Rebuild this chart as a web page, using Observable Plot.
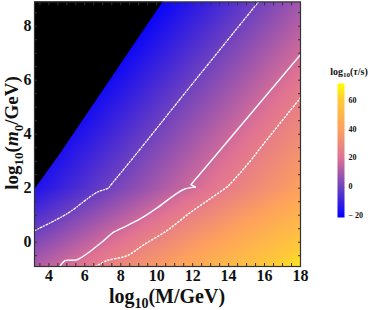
<!DOCTYPE html>
<html><head><meta charset="utf-8">
<script src="https://cdn.jsdelivr.net/npm/d3@7"></script>
<script src="https://cdn.jsdelivr.net/npm/@observablehq/plot@0.6"></script>
<style>
body{margin:0;background:#fff;}
#wrap{position:relative;width:374px;height:310px;}
#main{position:absolute;left:0;top:0;}
#legend{position:absolute;left:310px;top:60px;}
</style></head><body><div id="wrap"><div id="main"></div><div id="legend"></div></div>
<script>
// grid of log10(tau/s)
const gridM = [3.2, 6, 9, 12, 15, 18];
const gridM0 = [-0.9, 2, 8.9];
const gridTau = [
  [11.5, 22.0, 33.3, 44.5, 55.8, 67.0],
  [-15.8, -5.3, 6.0, 17.3, 28.5, 39.8],
  [-46.8, -36.3, -25.1, -13.8, -2.6, 8.7]
];
// excluded (black) region boundary
const blackM = [3.2, 4.64, 8.91, 10.36];
const blackM0 = [1.93, 3.27, 7.47, 8.9];
// contours (white): dot-dashed, solid (lower and upper branch), dotted
const dotDashM = [3.2, 5.0, 6.68, 7.3, 7.4, 8.9, 10.76, 11.3, 15.66];
const dotDashM0 = [0.43, 1.05, 1.85, 2.0, 2.08, 3.3, 4.85, 5.3, 8.9];
const solidLowM = [4.61, 4.9, 5.57, 7.05, 7.6, 8.0, 9.1, 10.0, 11.1, 11.6, 12.15];
const solidLowM0 = [-0.9, -0.68, -0.65, 0.06, 0.37, 0.5, 0.87, 1.26, 1.8, 1.98, 2.04];
const solidHighM = [12.15, 11.9, 13.16, 17.88, 18.0];
const solidHighM0 = [2.04, 2.13, 3.12, 6.85, 6.94];
const dottedM = [6.59, 7.24, 8.35, 9.27, 10.57, 11.87, 13.0, 13.9, 14.09, 15.2, 15.66, 17.88, 18.0];
const dottedM0 = [-0.9, -0.68, -0.5, -0.1, 0.43, 1.1, 1.62, 2.04, 2.16, 3.0, 3.4, 5.25, 5.35];
// ticks
const xTicks = [4, 6, 8, 10, 12, 14, 16, 18];
const yTicks = [0, 2, 4, 6, 8];
const legendTicks = [-20, 0, 20, 40, 60];
const colorStops = [-21.7, 0, 20, 40, 60, 72];
const colorRange = ["#0000ff", "#7042bf", "#e07294", "#fea15e", "#ffc93a", "#ffff00"];

const cells = [];
gridM0.forEach((m0, j) => gridM.forEach((M, i) => cells.push({M, m0, tau: gridTau[j][i]})));
const black = blackM.map((M, i) => ({M, m0: blackM0[i]}));
const line = (xs, ys) => xs.map((M, i) => ({M, m0: ys[i]}));
const minorX = d3.range(3.5, 18.01, 0.5);
const minorY = d3.range(-0.5, 8.91, 0.5);
const color = {type: "linear", domain: colorStops, range: colorRange, clamp: true, interpolate: "rgb"};
const serif = "'Liberation Serif', serif";

const chart = Plot.plot({
  width: 310, height: 310,
  marginLeft: 34, marginRight: 10, marginTop: 1.4, marginBottom: 44,
  style: {fontFamily: serif, background: "transparent", overflow: "visible"},
  x: {domain: [3.2, 18], label: null},
  y: {domain: [-0.9, 8.9], label: null},
  color,
  marks: [
    Plot.raster(cells, {x: "M", y: "m0", fill: "tau", interpolate: "barycentric"}),
    Plot.areaY(black, {x: "M", y1: "m0", y2: 8.9, fill: "black"}),
    Plot.line(line(dotDashM, dotDashM0), {x: "M", y: "m0", stroke: "white", strokeWidth: 1.3, strokeDasharray: "2,1.8,0.8,1.8", curve: "catmull-rom"}),
    Plot.line(line(solidLowM, solidLowM0), {x: "M", y: "m0", stroke: "white", strokeWidth: 1.4, curve: "catmull-rom"}),
    Plot.line(line(solidHighM, solidHighM0), {x: "M", y: "m0", stroke: "white", strokeWidth: 1.4, curve: "linear"}),
    Plot.line(line(dottedM, dottedM0), {x: "M", y: "m0", stroke: "white", strokeWidth: 1.5, strokeDasharray: "1.2,2.3", curve: "catmull-rom"}),
    Plot.frame({stroke: "#333", strokeWidth: 1.2}),
    Plot.axisX(minorX, {anchor: "bottom", tickSize: -3, tickFormat: () => "", stroke: "#333"}),
    Plot.axisX(minorX, {anchor: "top", tickSize: -3, tickFormat: () => "", stroke: "#333"}),
    Plot.axisY(minorY, {anchor: "left", tickSize: -3, tickFormat: () => "", stroke: "#333"}),
    Plot.axisY(minorY, {anchor: "right", tickSize: -3, tickFormat: () => "", stroke: "#333"}),
    Plot.axisX(xTicks, {anchor: "bottom", tickSize: 0, tickPadding: 3, fill: "#111", fontSize: 16, fontWeight: "bold", fontFamily: serif}),
    Plot.axisY(yTicks, {anchor: "left", tickSize: 0, tickPadding: 3, fill: "#111", fontSize: 16, fontWeight: "bold", fontFamily: serif})
  ]
});
document.getElementById("main").appendChild(chart);

const svg = d3.select(chart);
const xl = svg.append("text").attr("x", 167).attr("y", 303).attr("text-anchor", "middle")
  .attr("fill", "#111").style("font", "bold 20px 'Liberation Serif', serif");
xl.append("tspan").text("log");
xl.append("tspan").attr("font-size", "14px").attr("dy", 5).text("10");
xl.append("tspan").attr("dy", -5).text("(M/GeV)");

const yl = svg.append("text").attr("transform", "translate(18,133) rotate(-90)").attr("text-anchor", "middle")
  .attr("fill", "#111").style("font", "bold 19px 'Liberation Serif', serif");
yl.append("tspan").text("log");
yl.append("tspan").attr("font-size", "13px").attr("dy", 5).text("10");
yl.append("tspan").attr("dy", -5).text("(");
yl.append("tspan").attr("font-style", "italic").text("m");
yl.append("tspan").attr("font-size", "13px").attr("dy", 5).text("0");
yl.append("tspan").attr("dy", -5).text("/GeV)");

const legend = Plot.plot({
  width: 64, height: 162,
  marginLeft: 27, marginRight: 30, marginTop: 23, marginBottom: 5,
  style: {fontFamily: serif, fontSize: "7.5px", fontWeight: "bold", background: "transparent"},
  x: {domain: [0, 1], axis: null},
  y: {domain: [-21.7, 72], axis: null},
  color,
  marks: [
    Plot.raster({fill: (x, y) => y, x1: 0, x2: 1, y1: -21.7, y2: 72, width: 2, height: 300}),
    Plot.axisY(legendTicks, {anchor: "right", tickSize: 0, tickPadding: 4, fill: "#111", fontSize: 8, fontWeight: "bold",
      tickFormat: d => d < 0 ? "\u2212 " + Math.abs(d) : String(d)})
  ]
});
document.getElementById("legend").appendChild(legend);
const lt = d3.select(legend).append("text").attr("x", 39).attr("y", 15).attr("text-anchor", "middle")
  .attr("fill", "#111").style("font", "bold 10px 'Liberation Serif', serif");
lt.append("tspan").text("log");
lt.append("tspan").attr("font-size", "7px").attr("dy", 2).text("10");
lt.append("tspan").attr("dy", -2).text("(");
lt.append("tspan").attr("font-style", "italic").text("τ");
lt.append("tspan").text("/s)");
</script></body></html>
